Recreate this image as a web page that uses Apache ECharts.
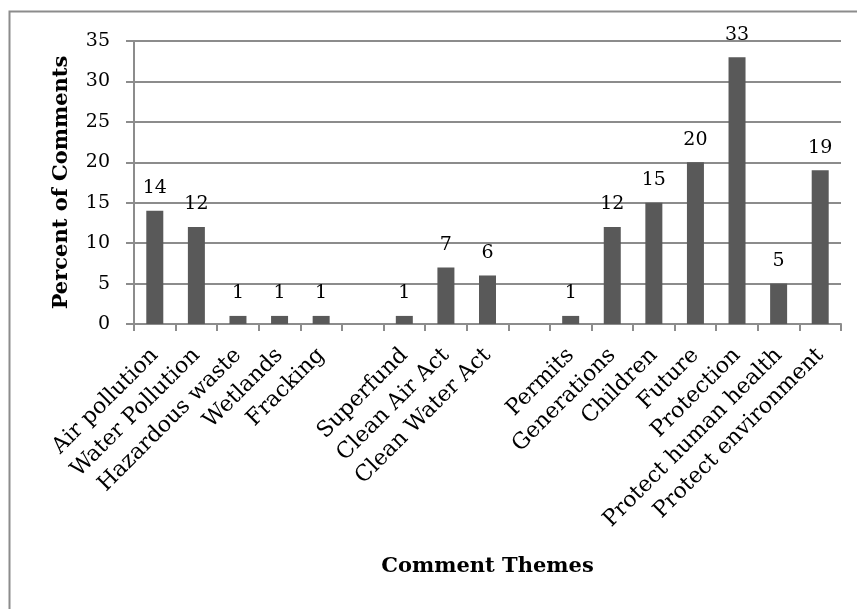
<!DOCTYPE html>
<html>
<head>
<meta charset="utf-8">
<script src="https://cdn.jsdelivr.net/npm/echarts@6/dist/echarts.min.js"></script>
<style>
html,body{margin:0;padding:0;background:#fff;}
#chart{width:857px;height:609px;}
</style>
</head>
<body>
<div id="chart"></div>
<script>
var categories = ['Air pollution','Water Pollution','Hazardous waste','Wetlands','Fracking','','Superfund','Clean Air Act','Clean Water Act','','Permits','Generations','Children','Future','Protection','Protect human health','Protect environment'];
var percentValues = [14, 12, 1, 1, 1, null, 1, 7, 6, null, 1, 12, 15, 20, 33, 5, 19];
var yTickMin = 0, yTickMax = 35, yTickStep = 5;
var xTitle = 'Comment Themes';
var yTitle = 'Percent of Comments';

var FONT = '"DejaVu Serif", "Liberation Serif", serif';
var chart = echarts.init(document.getElementById('chart'), null, {renderer: 'canvas'});
chart.setOption({
  animation: false,
  backgroundColor: '#fff',
  graphic: [{
    type: 'rect',
    shape: {x: 9.5, y: 11.5, width: 900, height: 700},
    style: {fill: 'none', stroke: '#8c8c8c', lineWidth: 2},
    silent: true
  }],
  grid: {left: 134, right: 16, top: 41, bottom: 285, containLabel: false},
  xAxis: {
    type: 'category',
    data: categories,
    boundaryGap: true,
    name: xTitle,
    nameLocation: 'middle',
    nameGap: 232,
    nameTextStyle: {fontFamily: FONT, fontSize: 21, fontWeight: 'bold', color: '#000'},
    axisLine: {show: true, lineStyle: {color: '#8c8c8c', width: 2}},
    axisTick: {show: true, alignWithLabel: false, interval: 0, length: 7, lineStyle: {color: '#8c8c8c', width: 2}},
    axisLabel: {interval: 0, rotate: 45, margin: 28, fontFamily: FONT, fontSize: 22, color: '#000'},
    splitLine: {show: false}
  },
  yAxis: {
    type: 'value',
    min: yTickMin, max: yTickMax, interval: yTickStep,
    name: yTitle,
    nameLocation: 'middle',
    nameGap: 62,
    nameRotate: 90,
    nameTextStyle: {fontFamily: FONT, fontSize: 21, fontWeight: 'bold', color: '#000'},
    axisLine: {show: true, lineStyle: {color: '#8c8c8c', width: 2}},
    axisTick: {show: true, length: 8, lineStyle: {color: '#8c8c8c', width: 2}},
    axisLabel: {margin: 24, fontFamily: FONT, fontSize: 19, color: '#000'},
    splitLine: {show: true, lineStyle: {color: '#8c8c8c', width: 2}}
  },
  series: [{
    type: 'bar',
    data: percentValues,
    barWidth: 17,
    itemStyle: {color: '#595959'},
    label: {show: true, position: 'top', distance: 13, fontFamily: FONT, fontSize: 19, color: '#000'}
  }]
});
</script>
</body>
</html>
